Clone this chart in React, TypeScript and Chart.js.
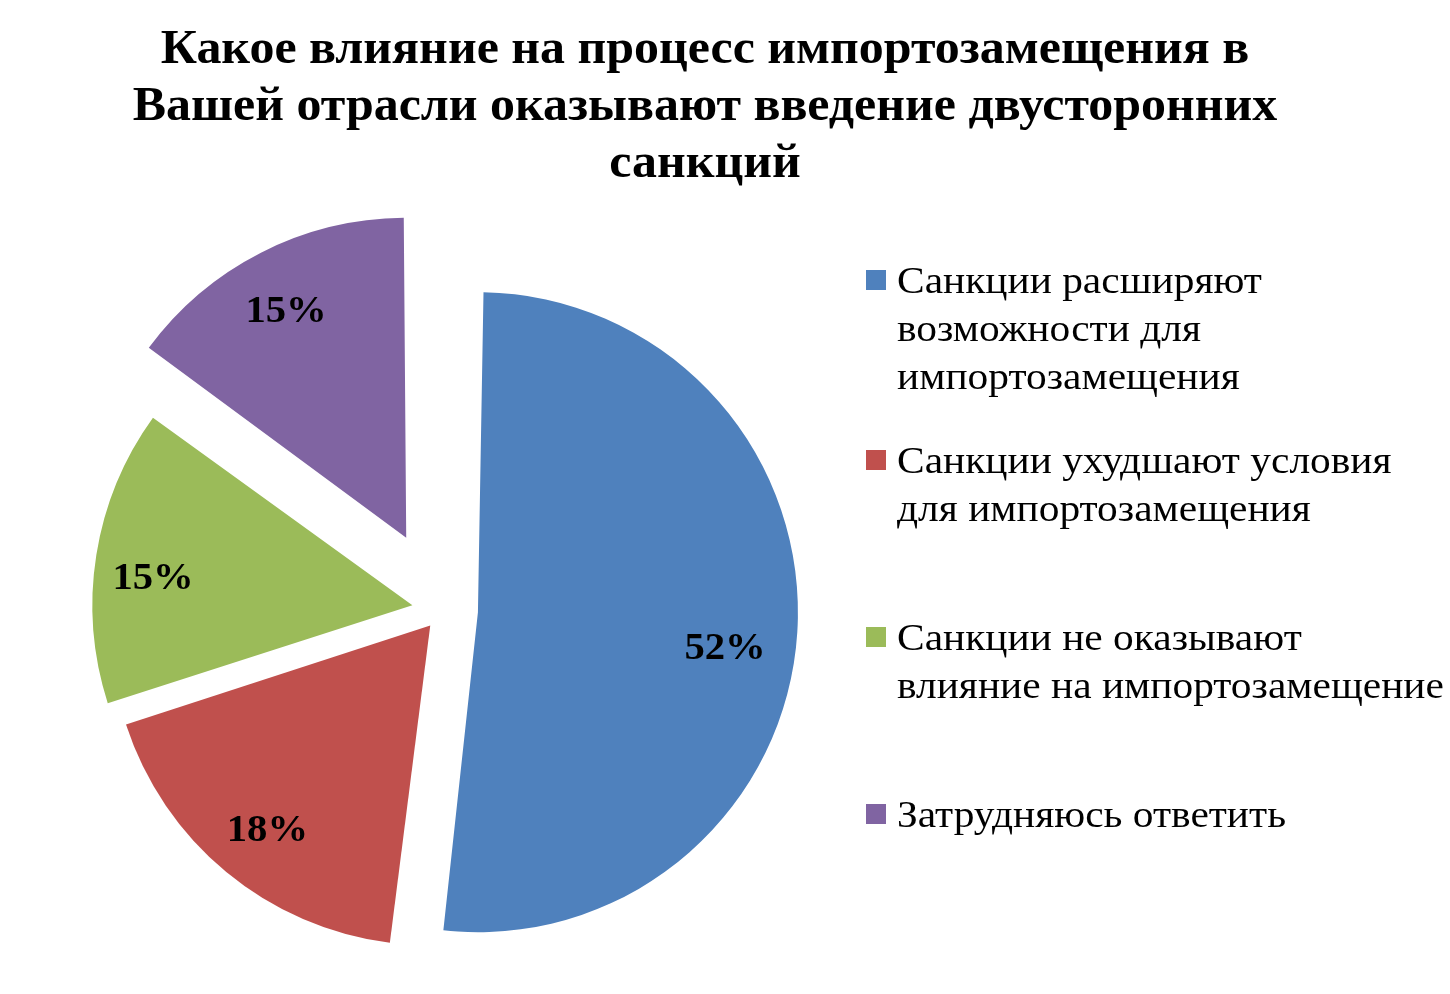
import React, { useEffect, useRef } from "react";
import { Chart, registerables } from "chart.js";

Chart.register(...registerables);

// ---- data ----
const TITLE_LINES = [
  "Какое влияние на процесс импортозамещения в",
  "Вашей отрасли оказывают введение двусторонних",
  "санкций",
];
const CATEGORIES = [
  "Санкции расширяют возможности для импортозамещения",
  "Санкции ухудшают условия для импортозамещения",
  "Санкции не оказывают влияние на импортозамещение",
  "Затрудняюсь ответить",
];
const LEGEND_LINES = [
  ["Санкции расширяют", "возможности для", "импортозамещения"],
  ["Санкции ухудшают условия", "для импортозамещения"],
  ["Санкции не оказывают", "влияние на импортозамещение"],
  ["Затрудняюсь ответить"],
];
const VALUES = [52, 18, 15, 15];

// ---- styles ----
const COLORS = ["#4F81BD", "#C0504D", "#9BBB59", "#8064A2"];
const EXPLODE = [140, 80, 124, 324];
const RADIUS = 320;
// label placement inside each slice: fraction of the slice's angular span, and of the radius
const LABEL_SPAN_FRAC = [0.524, 0.485, 0.448, 0.485];
const LABEL_RADIUS_FRAC = [0.78, 0.815, 0.815, 0.805];
const LEGEND_TOPS = [256, 436, 613, 790];
const SERIF = "'Liberation Serif', 'Times New Roman', serif";

const radiusFix = {
  id: "radiusFix",
  beforeDatasetsDraw(chart: any) {
    const meta = chart.getDatasetMeta(0);
    meta.data.forEach((arc: any, i: number) => {
      const circ = arc.endAngle - arc.startAngle;
      const fix = 1 - Math.sin(Math.min(Math.PI, circ));
      arc.outerRadius = RADIUS - (EXPLODE[i] / 4) * fix;
    });
  },
};

const sliceLabels = {
  id: "sliceLabels",
  afterDatasetsDraw(chart: any) {
    const ctx = chart.ctx;
    const meta = chart.getDatasetMeta(0);
    ctx.save();
    ctx.font = `bold 38px ${SERIF}`;
    ctx.fillStyle = "#000";
    ctx.textAlign = "center";
    ctx.textBaseline = "middle";
    meta.data.forEach((arc: any, i: number) => {
      const mid = (arc.startAngle + arc.endAngle) / 2;
      const t = EXPLODE[i] / 4;
      const cx = arc.x + Math.cos(mid) * t;
      const cy = arc.y + Math.sin(mid) * t;
      const a = arc.startAngle + (arc.endAngle - arc.startAngle) * LABEL_SPAN_FRAC[i];
      const d = RADIUS * LABEL_RADIUS_FRAC[i];
      ctx.save();
      ctx.translate(cx + Math.cos(a) * d, cy + Math.sin(a) * d + 2);
      ctx.scale(1.07, 1);
      ctx.fillText(`${VALUES[i]}%`, 0, 0);
      ctx.restore();
    });
    ctx.restore();
  },
};

export default function App() {
  const canvasRef = useRef<HTMLCanvasElement | null>(null);

  useEffect(() => {
    if (!canvasRef.current) return;
    const chart = new Chart(canvasRef.current, {
      type: "pie",
      data: {
        labels: CATEGORIES,
        datasets: [
          {
            data: VALUES,
            backgroundColor: COLORS,
            borderWidth: 0,
            offset: EXPLODE,
          },
        ],
      },
      options: {
        responsive: false,
        devicePixelRatio: 1,
        animation: false,
        radius: RADIUS,
        layout: { padding: { left: 0, right: 564, top: 276, bottom: 50 } },
        plugins: {
          legend: { display: false },
          title: { display: false },
          tooltip: { enabled: false },
        },
      } as any,
      plugins: [radiusFix, sliceLabels],
    });
    return () => chart.destroy();
  }, []);

  return (
    <div style={{ position: "absolute", left: 0, top: 0, width: 1450, height: 994, background: "#fff", overflow: "hidden" }}>
      <canvas ref={canvasRef} width={1450} height={994} style={{ position: "absolute", left: 0, top: 0 }} />
      <div
        style={{
          position: "absolute",
          left: 0,
          top: 18,
          width: 1410,
          textAlign: "center",
          fontFamily: SERIF,
          fontWeight: "bold",
          fontSize: 48,
          lineHeight: "57px",
          color: "#000",
          transform: "scaleX(1.04)",
          transformOrigin: "705px 0",
        }}
      >
        {TITLE_LINES.map((l, i) => (
          <div key={i} style={{ whiteSpace: "nowrap" }}>{l}</div>
        ))}
      </div>
      {LEGEND_LINES.map((lines, i) => (
        <div key={i} style={{ position: "absolute", left: 866, top: LEGEND_TOPS[i] }}>
          <div style={{ position: "absolute", left: 0, top: 14, width: 20, height: 20, background: COLORS[i] }} />
          <div
            style={{
              position: "absolute",
              left: 31,
              top: 0,
              fontFamily: SERIF,
              fontSize: 38,
              lineHeight: "48px",
              color: "#000",
              whiteSpace: "nowrap",
              transform: "scaleX(1.09)",
              transformOrigin: "0 0",
            }}
          >
            {lines.map((l, j) => (
              <div key={j}>{l}</div>
            ))}
          </div>
        </div>
      ))}
    </div>
  );
}
